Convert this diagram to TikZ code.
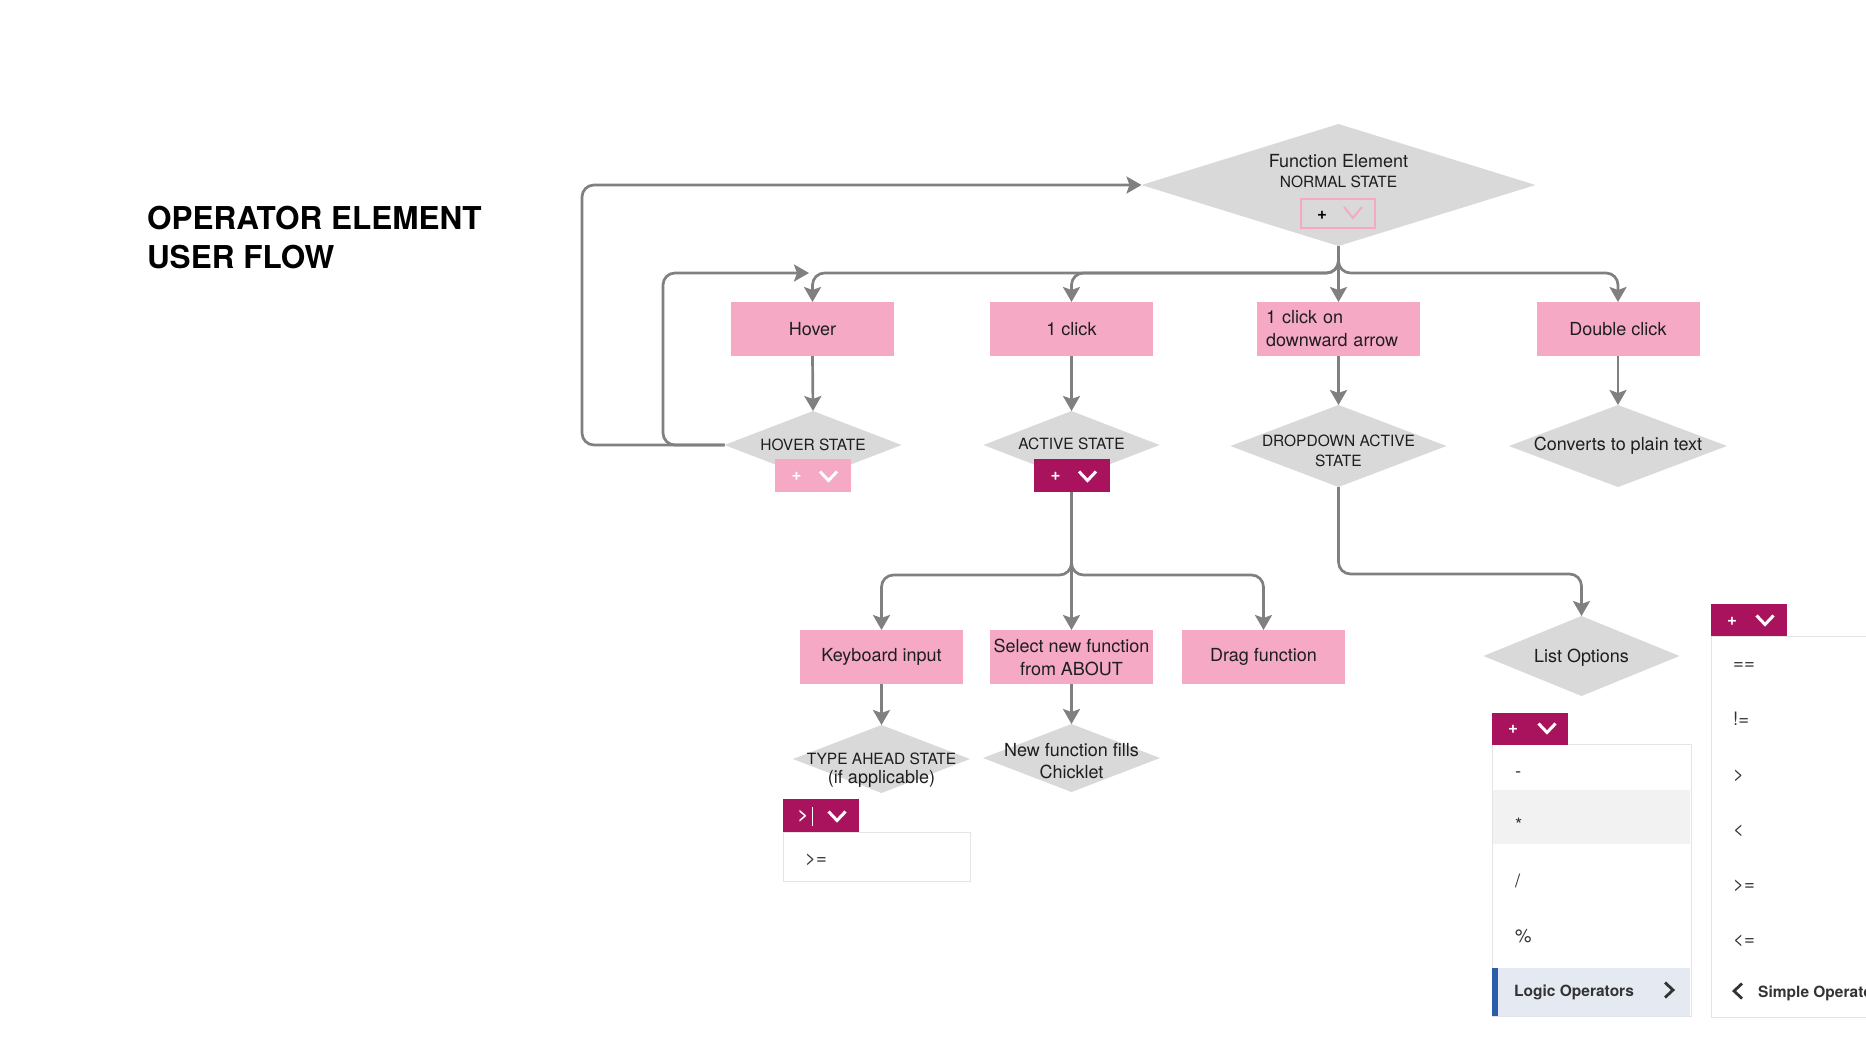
\documentclass[tikz,border=0pt]{standalone}
\usepackage{fontspec}
\setmainfont{TeX Gyre Heros}
\usetikzlibrary{arrows.meta,shapes.geometric}
\definecolor{pinkbox}{HTML}{F5A9C4}
\definecolor{mag}{HTML}{A9135E}
\definecolor{diagray}{HTML}{D9D9D9}
\definecolor{conngray}{HTML}{808080}
\definecolor{txt}{HTML}{1E1E1E}
\definecolor{itemc}{HTML}{333333}
\definecolor{panelb}{HTML}{E4E4E4}
\definecolor{rowgray}{HTML}{F2F2F2}
\definecolor{logicbg}{HTML}{E4E9F2}
\definecolor{logicbar}{HTML}{2A5CAA}
\newcommand{\fsz}[2]{\fontsize{#1pt}{#2pt}\selectfont}
\begin{document}
\begin{tikzpicture}[x=1pt,y=-1pt,
  pbox/.style={rectangle, fill=pinkbox, minimum width=163pt, minimum height=54pt, inner sep=0pt, outer sep=0pt, align=center, text=txt, font=\fsz{18}{23}},
  dnode/.style={diamond, fill=diagray, inner sep=0pt, outer sep=0pt},
  lbl/.style={inner sep=0pt, outer sep=0pt, text=txt, font=\fsz{18}{22}},
  caps/.style={lbl, font=\fsz{15.5}{18}},
  btn/.style={rectangle, fill=mag, minimum width=76pt, minimum height=33pt, inner sep=0pt, outer sep=0pt},
  cn/.style={draw=conngray, line width=2.7pt, rounded corners=12pt, -{Stealth[length=15pt,width=17pt,inset=3pt]}},
  item/.style={anchor=base west, inner sep=0pt, text=itemc, font=\fsz{18.5}{22}},
  plus/.style={inner sep=0pt, font=\bfseries\fsz{17}{20}},
  chevd/.pic={\draw[line width=3pt, line join=miter] (-8.5,-4.5) -- (0,4.5) -- (8.5,-4.5);},
  chevdthin/.pic={\draw[line width=2pt, line join=miter] (-9,-6) -- (0,5) -- (9,-6);},
  chevr/.pic={\draw[line width=2.8pt, line join=miter] (-4,-7.5) -- (4,0) -- (-4,7.5);},
  chevl/.pic={\draw[line width=2.8pt, line join=miter] (4,-7.5) -- (-4,0) -- (4,7.5);}
]
\path[use as bounding box] (0,0) rectangle (1866,1050);
\clip (0,0) rectangle (1866,1050);
\fill[white] (0,0) rectangle (1866,1050);

% title
\node[lbl, anchor=base west, font=\bfseries\fsz{31.5}{39}, text=black] (title1) at (147,229) {OPERATOR ELEMENT};
\node[lbl, anchor=base west, font=\bfseries\fsz{31.5}{39}, text=black] (title2) at (147,268) {USER FLOW};

% diamonds
\node[dnode, minimum width=394pt, minimum height=122pt] (fe) at (1338.5,185) {};
\node[dnode, minimum width=177pt, minimum height=68pt] (hs) at (813,445) {};
\node[dnode, minimum width=176pt, minimum height=68pt] (as) at (1071.5,445) {};
\node[dnode, minimum width=216pt, minimum height=82pt] (ds) at (1338.5,446) {};
\node[dnode, minimum width=218pt, minimum height=82pt] (cv) at (1618,446) {};
\node[dnode, minimum width=196pt, minimum height=80pt] (lo) at (1581.5,656) {};
\node[dnode, minimum width=177pt, minimum height=68pt] (ta) at (881.5,759) {};
\node[dnode, minimum width=177pt, minimum height=68pt] (nf) at (1071.5,758) {};

% boxes
\node[pbox] (hov) at (812.5,329) {Hover};
\node[pbox] (c1) at (1071.5,329) {1 click};
\node[pbox, align=left, text width=145pt] (c1d) at (1338.5,329) {1 click on\\downward arrow};
\node[pbox] (dc) at (1618,329) {Double click};
\node[pbox] (kb) at (881.5,657) {\raisebox{-2pt}{Keyboard input}};
\node[pbox] (sel) at (1071.5,657) {Select new function\\from ABOUT};
\node[pbox] (drag) at (1263.5,657) {Drag function};

% buttons
\node[rectangle, draw=pinkbox, line width=2.5pt, fill=diagray, minimum width=74pt, minimum height=29pt, inner sep=0pt] (febtn) at (1338,213.5) {};
\node[plus, text=black] (feplus) at (1322,215) {+};
\pic[color=pinkbox] at (1353,213) {chevdthin};

\node[btn, fill=pinkbox] (hbtn) at (812.5,475.5) {};
\node[plus, text=white] (hplus) at (796.5,476) {+};
\pic[color=white] at (828.5,476) {chevd};

\node[btn] (abtn) at (1071.5,475.5) {};
\node[plus, text=white] (aplus) at (1055.5,476) {+};
\pic[color=white] at (1087.5,476) {chevd};

% connectors
\coordinate (br1) at (1338.5,273);
\draw[cn] (fe.south) -- (br1) -| (hov.north);
\draw[cn] (fe.south) -- (br1) -| (c1.north);
\draw[cn] (fe.south) -- (c1d.north);
\draw[cn] (fe.south) -- (br1) -| (dc.north);
\draw[cn] (hov.south) -- (hs.north);
\draw[cn] (c1.south) -- (as.north);
\draw[cn] (c1d.south) -- (ds.north);
\draw[cn] (dc.south) -- (cv.north);
\coordinate (hin) at (809,273);
\draw[cn] (hs.west) -- (663,445) -- (663,273) -- (hin);
\draw[cn] (hs.west) -- (582,445) -- (582,185) -- (fe.west);
\coordinate (br2) at (1071.5,575);
\draw[cn] (abtn.south) -- (br2) -| (kb.north);
\draw[cn] (abtn.south) -- (sel.north);
\draw[cn] (abtn.south) -- (br2) -| (drag.north);
\coordinate (br3) at (1338.5,574);
\draw[cn] (ds.south) -- (br3) -| (lo.north);
\draw[cn] (kb.south) -- (ta.north);
\draw[cn] (sel.south) -- (nf.north);

% diamond labels
\node[lbl, anchor=base] (fet1) at (1338.5,167) {Function Element};
\node[caps, anchor=base] (fet2) at (1338.5,187) {NORMAL STATE};
\node[caps, anchor=base] (hst) at (813,450) {HOVER STATE};
\node[caps, anchor=base] (ast) at (1071.5,449) {ACTIVE STATE};
\node[caps, anchor=base] (dst1) at (1338.5,446) {DROPDOWN ACTIVE};
\node[caps, anchor=base] (dst2) at (1338.5,466) {STATE};
\node[lbl, anchor=base] (cvt) at (1618,450) {Converts to plain text};
\node[lbl, anchor=base] (lot) at (1581.5,662) {List Options};
\node[caps, anchor=base] (tat1) at (881.5,764) {TYPE AHEAD STATE};
\node[lbl, anchor=base] (tat2) at (881.5,783) {(if applicable)};
\node[lbl, anchor=base] (nft1) at (1071.5,756) {New function fills};
\node[lbl, anchor=base] (nft2) at (1071.5,778) {Chicklet};

% type ahead dropdown
\node[rectangle, draw=panelb, line width=1pt, fill=white, minimum width=187pt, minimum height=49pt, inner sep=0pt] (tpanel) at (876.5,856.5) {};
\node[btn] (tbtn) at (820.5,815.5) {};
\node[plus, text=white] (tgt) at (803,816) {>};
\draw[white, line width=1pt] (812,807) -- (812,826);
\pic[color=white] at (837,816) {chevd};
\node[item] (tge) at (805,864) {>=};

% list options dropdown
\node[rectangle, draw=panelb, line width=1pt, fill=white, minimum width=199pt, minimum height=272pt, inner sep=0pt] (lpanel) at (1591.5,880) {};
\fill[rowgray] (1493,790) rectangle (1690,844);
\fill[logicbg] (1493,968) rectangle (1690,1016);
\fill[logicbar] (1492,968) rectangle (1498,1016);
\node[btn, minimum height=32pt] (lbtn) at (1530,728.5) {};
\node[plus, text=white] (lplus) at (1513,729) {+};
\pic[color=white] at (1547,728) {chevd};
\node[item] (i1) at (1515,777) {-};
\node[item] (i2) at (1515,831) {*};
\node[item] (i3) at (1515,887) {/};
\node[item] (i4) at (1515,942) {\%};
\node[item, font=\bfseries\fsz{15.5}{18}] (i5) at (1514,996) {Logic Operators};
\pic[color=itemc] at (1669,990) {chevr};

% logic operators dropdown
\node[rectangle, draw=panelb, line width=1pt, fill=white, minimum width=209pt, minimum height=381pt, inner sep=0pt] (rpanel) at (1815.5,826.5) {};
\node[btn, minimum height=32pt] (rbtn) at (1749,620) {};
\node[plus, text=white] (rplus) at (1732,621) {+};
\pic[color=white] at (1765,620) {chevd};
\node[item] (r1) at (1733,669) {==};
\node[item] (r2) at (1733,725) {!=};
\node[item] (r3) at (1733,780) {>};
\node[item] (r4) at (1733,835) {<};
\node[item] (r5) at (1733,890) {>=};
\node[item] (r6) at (1733,945) {<=};
\pic[color=itemc] at (1738,991) {chevl};
\node[item, font=\bfseries\fsz{15.5}{18}] (r7) at (1758,997) {Simple Operators};
\end{tikzpicture}
\end{document}
